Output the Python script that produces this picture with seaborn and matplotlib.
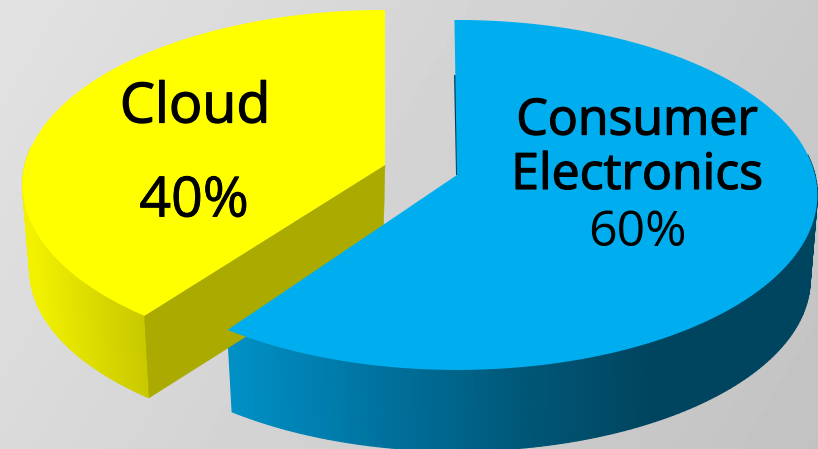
import numpy as np
import matplotlib
matplotlib.use("Agg")
import matplotlib.pyplot as plt
import matplotlib.patheffects as pe
from matplotlib.colors import LinearSegmentedColormap
import seaborn as sns

labels = ["Consumer\nElectronics", "Cloud"]
shares = [60, 40]
top_colors = ["#00aeef", "#ffff00"]

sns.set_theme(style="white")
plt.rcParams['font.family'] = ['Open Sans', 'DejaVu Sans']

W, H = 818, 449
fig = plt.figure(figsize=(W/100, H/100), dpi=100)
ax = fig.add_axes([0, 0, 1, 1])
ax.set_xlim(0, W); ax.set_ylim(H, 0); ax.axis("off")

gx, gy = np.meshgrid(np.linspace(0, 1, 200), np.linspace(0, 1, 120))
bg = (226 - 24*gx - 8*gy) / 255
ax.imshow(bg, extent=[0, W, H, 0], cmap="gray", vmin=0, vmax=1, aspect="auto", zorder=0)

K, RY, DEPTH, SHRINK = 0.114, 172.7, 85, 0.98
radii_x = [358, 360]

def project(theta, cx, cy, rx):
    u, v = np.sin(theta), -np.cos(theta)
    d = 1 - K*v
    return cx + rx*u/d, cy + RY*v/d

def lower(x, y, cx, cy):
    return cx + (x-cx)*SHRINK, cy + (y-cy)*SHRINK + DEPTH

fr = np.array(shares) / sum(shares) * 2*np.pi
t0 = np.array([-0.008, fr[0] + 0.025])
t1 = np.array([fr[0] - 0.008, 2*np.pi])
centers = [(457, 175), (385, 165)]
side_maps = [LinearSegmentedColormap.from_list("b", [(0, "#0090c6"), (0.25, "#0073a0"), (0.5, "#005878"), (0.72, "#004560"), (1, "#004560")]),
             LinearSegmentedColormap.from_list("y", [(0, "#f2f200"), (0.5, "#dcdc00"), (1, "#c8c800")])]

for i in [1, 0]:
    cx, cy = centers[i]
    th = np.linspace(t0[i], t1[i], 200)
    x, y = project(th, cx, cy, radii_x[i])
    vis = np.cos(th) < 0.12
    xs, ys = x[vis], y[vis]
    if xs[0] > xs[-1]:
        xs, ys = xs[::-1], ys[::-1]
    xb, yb = lower(xs, ys, cx, cy)
    span = xs[-1] - xs[0]
    for j in range(len(xs)-1):
        c = side_maps[i]((xs[j]-xs[0])/span)
        ax.fill([xs[j], xs[j+1], xb[j+1], xb[j]], [ys[j], ys[j+1], yb[j+1], yb[j]],
                facecolor=c, edgecolor=c, lw=0.9, zorder=2)
    ex, ey = project(t0[i], cx, cy, radii_x[i])
    if i == 1:
        # cut face of the smaller slice, running from its corner to the centre
        bx, by = lower(ex, ey, cx, cy)
        ax.fill([cx, ex, bx, cx - 2], [cy, ey, by, cy + DEPTH], facecolor="#aaaa00", edgecolor="#aaaa00", lw=0.3, zorder=3)
    else:
        ax.plot([cx - 2, cx], [cy - 100, cy], color="#00405c", lw=1.4, zorder=2.5, solid_capstyle="butt")
    ax.fill(np.r_[cx, x], np.r_[cy, y], color=top_colors[i], lw=0, zorder=4)

stroke = [pe.withStroke(linewidth=0.9, foreground="black")]
ax.text(195, 108, labels[1], ha="center", va="center", fontsize=40, color="black", zorder=5, path_effects=stroke)
ax.text(194, 202, f"{shares[1]}%", ha="center", va="center", fontsize=40, color="black", zorder=5, path_effects=[pe.withStroke(linewidth=0.6, foreground="black")])
ax.text(637, 149, labels[0], ha="center", va="center", fontsize=36, color="black", linespacing=1.13, zorder=5, path_effects=stroke)
ax.text(637, 233.5, f"{shares[0]}%", ha="center", va="center", fontsize=36, color="black", zorder=5)

fig.savefig("out.png", dpi=100)
